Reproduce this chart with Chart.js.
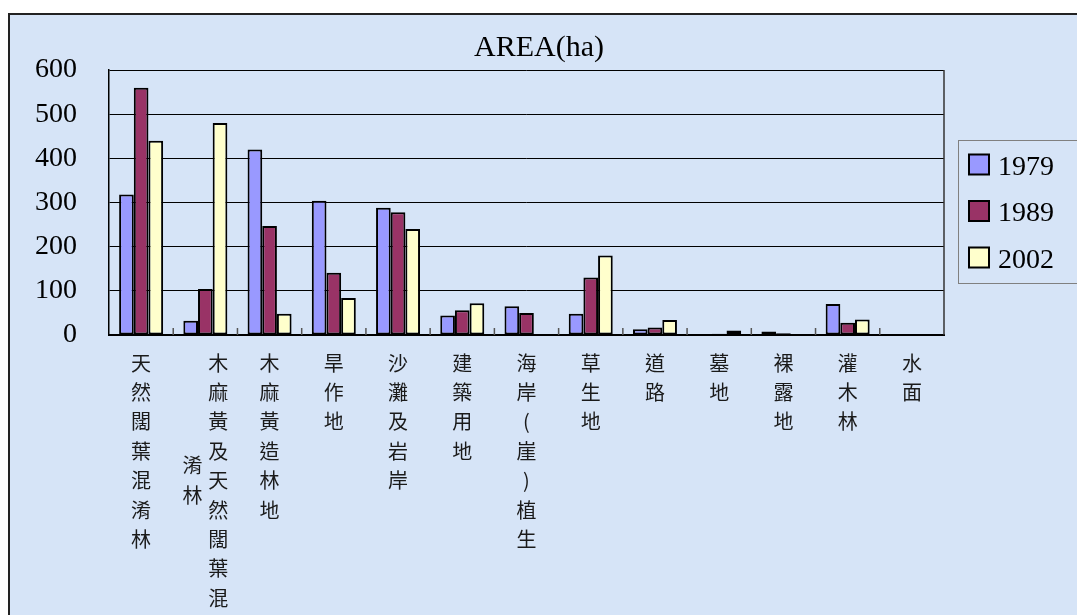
<!DOCTYPE html>
<html>
<head>
<meta charset="utf-8">
<script src="https://cdn.jsdelivr.net/npm/chart.js@4/dist/chart.umd.min.js"></script>
<style>
  html, body { margin: 0; padding: 0; background: #ffffff; }
  #chart { display: block; }
</style>
</head>
<body>
<canvas id="chart" width="1077" height="615"></canvas>
<script>
// Land-use categories (vertical stacked labels under the axis)
const categories = [
  '天然闊葉混淆林',
  '木麻黃及天然闊葉混淆林',
  '木麻黃造林地',
  '旱作地',
  '沙灘及岩岸',
  '建築用地',
  '海岸(崖)植生',
  '草生地',
  '道路',
  '墓地',
  '裸露地',
  '灌木林',
  '水面'
];

// Survey years
const years = ['1979', '1989', '2002'];

// Area in hectares for each year
const area1979 = [318, 32, 420, 304, 288, 44, 65, 48, 13, 1, 8, 70, 0];
const area1989 = [560, 104, 247, 141, 278, 56, 50, 130, 17, 3, 4, 28, 0];
const area2002 = [440, 480, 48, 84, 240, 72, 2, 180, 34, 10, 2, 35, 2];

// Value axis ticks
const yMin = 0;
const yMax = 600;
const yStep = 100;

const titleText = 'AREA(ha)';

const seriesFills = ['#9999FF', '#993366', '#FFFFCC'];
const panelColor = '#D6E4F7';
const serif = '"Liberation Serif", "Times New Roman", serif';
const cjk = '"Noto Sans CJK TC", "Noto Sans CJK SC", sans-serif';

// White page, light-blue chart panel with its top and left edge
const panelPlugin = {
  id: 'panel',
  beforeDraw(chart) {
    const ctx = chart.ctx;
    ctx.save();
    ctx.fillStyle = '#ffffff';
    ctx.fillRect(0, 0, chart.width, chart.height);
    ctx.fillStyle = panelColor;
    ctx.fillRect(9, 14, chart.width - 9, chart.height - 14);
    ctx.strokeStyle = '#222222';
    ctx.lineWidth = 2;
    ctx.beginPath();
    ctx.moveTo(9, chart.height);
    ctx.lineTo(9, 14);
    ctx.lineTo(chart.width, 14);
    ctx.stroke();
    ctx.restore();
  }
};

// Title, plot frame, category separators, stacked labels and legend box
const decorPlugin = {
  id: 'decor',
  afterDraw(chart) {
    const ctx = chart.ctx;
    const area = chart.chartArea;
    const xs = chart.scales.x;
    ctx.save();

    // title
    ctx.fillStyle = '#000';
    ctx.font = '30px ' + serif;
    ctx.textAlign = 'center';
    ctx.textBaseline = 'alphabetic';
    ctx.fillText(titleText, 539, 56);

    // right edge of the plot frame
    ctx.strokeStyle = '#333';
    ctx.lineWidth = 1.5;
    ctx.beginPath();
    ctx.moveTo(area.right, area.top);
    ctx.lineTo(area.right, area.bottom);
    ctx.stroke();

    // small marks between category groups
    ctx.strokeStyle = '#555';
    ctx.lineWidth = 1.5;
    for (let i = 0; i < categories.length - 1; i++) {
      const bx = (xs.getPixelForValue(i) + xs.getPixelForValue(i + 1)) / 2;
      ctx.beginPath();
      ctx.moveTo(bx, area.bottom);
      ctx.lineTo(bx, area.bottom - 7);
      ctx.stroke();
    }

    // vertical category labels, one character per line
    const pitch = 29.4;
    const firstCenter = area.bottom + 28;
    const colGap = 25.6;
    const maxRows = Math.floor((chart.height - (firstCenter - pitch / 2)) / pitch);
    ctx.font = '20px ' + cjk;
    ctx.fillStyle = '#1a1a1a';
    ctx.textAlign = 'center';
    ctx.textBaseline = 'middle';
    categories.forEach((name, i) => {
      const chars = Array.from(name);
      const cols = [];
      for (let k = 0; k < chars.length; k += maxRows) cols.push(chars.slice(k, k + maxRows));
      const cx = xs.getPixelForValue(i);
      const n = cols.length;
      const blockMid = firstCenter + (cols[0].length - 1) * pitch / 2;
      cols.forEach((col, c) => {
        // first column on the right, following columns to its left
        const colX = cx + ((n - 1) / 2 - c) * colGap;
        const startY = n > 1 ? blockMid - (col.length - 1) * pitch / 2 : firstCenter;
        col.forEach((ch, r) => ctx.fillText(ch, colX, startY + r * pitch));
      });
    });

    // legend
    const lx = 958, ly = 140, lw = 140, lh = 143;
    ctx.strokeStyle = '#808080';
    ctx.lineWidth = 1;
    ctx.strokeRect(lx + 0.5, ly + 0.5, lw, lh);
    ctx.font = '28px ' + serif;
    ctx.textAlign = 'left';
    ctx.textBaseline = 'alphabetic';
    chart.data.datasets.forEach((ds, k) => {
      const cy = 164.5 + k * 46.5;
      ctx.fillStyle = ds.backgroundColor;
      ctx.fillRect(969, cy - 10, 20, 20);
      ctx.strokeStyle = '#000';
      ctx.lineWidth = 2;
      ctx.strokeRect(969, cy - 10, 20, 20);
      ctx.fillStyle = '#000';
      ctx.fillText(ds.label, 998, cy + 10);
    });

    ctx.restore();
  }
};

const seriesValues = [area1979, area1989, area2002];

new Chart(document.getElementById('chart'), {
  type: 'bar',
  data: {
    labels: categories,
    datasets: years.map((y, k) => ({
      label: y,
      data: seriesValues[k],
      backgroundColor: seriesFills[k],
      borderColor: '#000000',
      borderWidth: 2,
      borderSkipped: false,
      categoryPercentage: 0.685,
      barPercentage: 1.0
    }))
  },
  options: {
    responsive: false,
    animation: false,
    devicePixelRatio: 1,
    layout: { padding: { left: 0, top: 70, right: 133, bottom: 280 } },
    plugins: {
      legend: { display: false },
      title: { display: false },
      tooltip: { enabled: false }
    },
    scales: {
      x: {
        type: 'category',
        grid: { display: false },
        ticks: { display: false },
        border: { display: true, color: '#000', width: 2 },
        afterFit(scale) { scale.height = 0; }
      },
      y: {
        min: yMin,
        max: yMax,
        ticks: {
          stepSize: yStep,
          color: '#000',
          font: { family: serif, size: 28 },
          padding: 32
        },
        grid: { color: '#000', lineWidth: 1, drawTicks: false },
        border: { display: true, color: '#000', width: 1.5 },
        afterFit(scale) { scale.width = 109; }
      }
    }
  },
  plugins: [panelPlugin, decorPlugin]
});
</script>
</body>
</html>
